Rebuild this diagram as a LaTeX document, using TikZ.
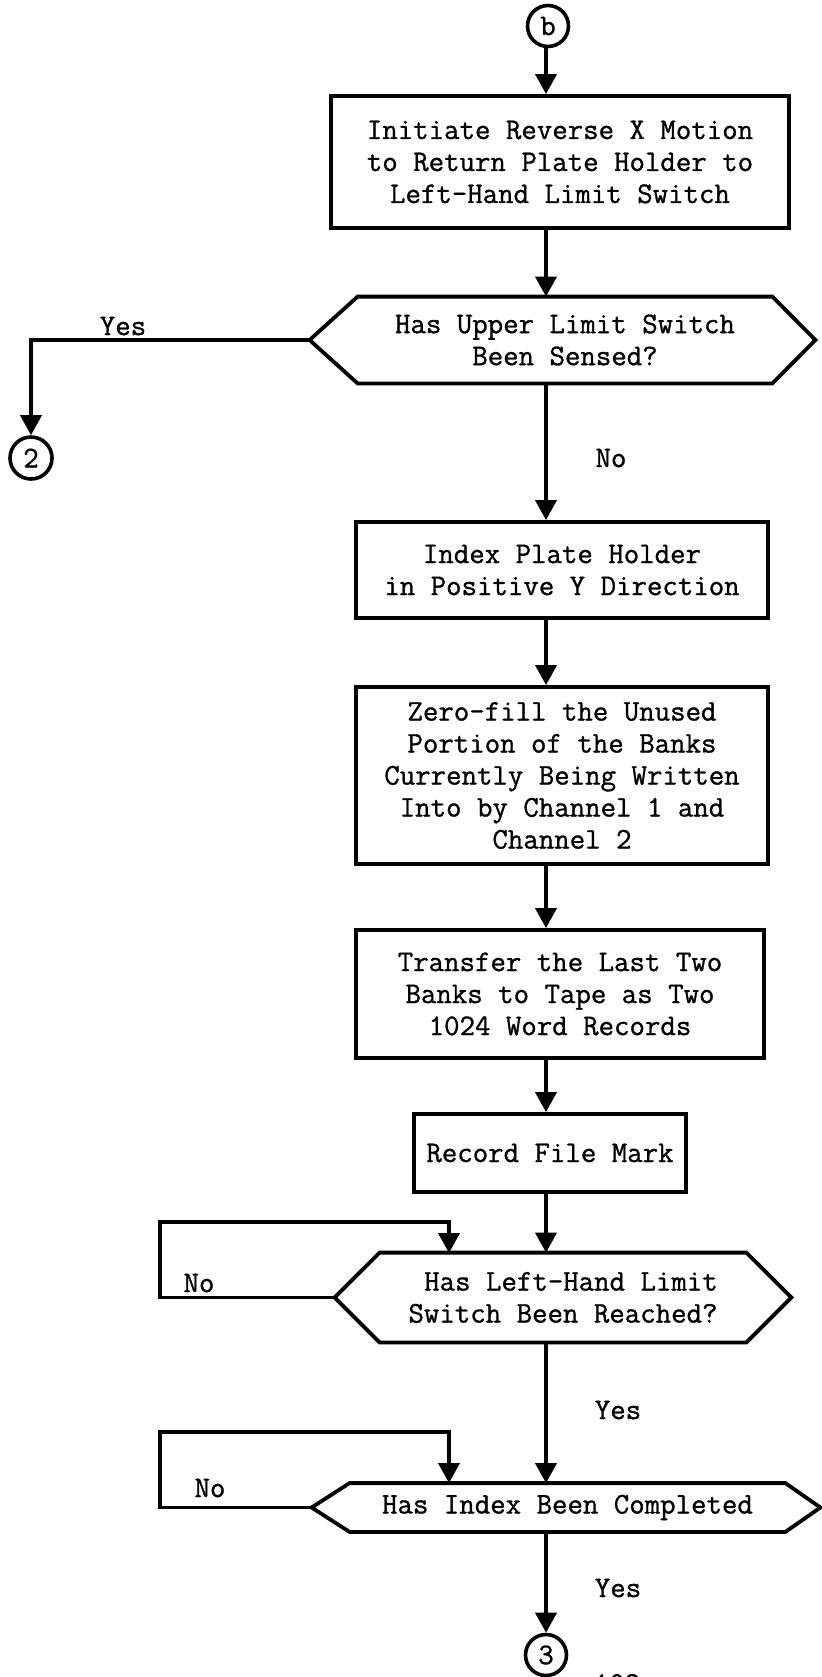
\documentclass[tikz,border=0pt]{standalone}
\usepackage{fontspec}
\setmonofont[FakeBold=1]{Latin Modern Mono}
\usetikzlibrary{arrows.meta}
\newcommand\tyfont{\fontsize{15}{16}\selectfont\ttfamily}
\begin{document}
\begin{tikzpicture}[x=0.5pt,y=-0.5pt,
  line/.style={line width=1.9pt},
  arrow/.style={line, -{Triangle[length=10pt,width=10.5pt]}},
  box/.style={draw, line width=1.9pt, align=center, inner sep=0pt, font=\tyfont},
  dec/.style={align=center, inner sep=0pt, font=\tyfont},
  hex/.style={line width=1.9pt, line join=miter},
  conn/.style={draw, circle, line width=1.8pt, inner sep=0pt, minimum size=20.5pt, font=\tyfont},
  lab/.style={font=\tyfont}]
\useasboundingbox (0,0) rectangle (821,1677);

% connectors (circles)
\node[conn] (cb) at (548,26) {b};
\node[conn, minimum size=21pt] (c2) at (31,458) {2};
\node[conn] (c3) at (546,1655) {3};

% process boxes
\node[box, minimum width=229pt, minimum height=66pt] (b1) at (560,162)
  {Initiate Reverse X Motion\\to Return Plate Holder to\\Left-Hand Limit Switch};
\node[box, minimum width=206pt, minimum height=48pt] (b2) at (562,570)
  {Index Plate Holder\\in Positive Y Direction};
\node[box, minimum width=206pt, minimum height=88.5pt] (b3) at (562,775.5)
  {Zero-fill the Unused\\Portion of the Banks\\Currently Being Written\\Into by Channel 1 and\\Channel 2};
\node[box, minimum width=204pt, minimum height=64pt] (b4) at (560,994)
  {Transfer the Last Two\\Banks to Tape as Two\\1024 Word Records};
\node[box, minimum width=136pt, minimum height=39pt] (b5) at (550,1153)
  {Record File Mark};

% decision 1
\node[dec, minimum width=207pt, minimum height=43pt] (d1) at (565,340)
  {Has Upper Limit Switch\\Been Sensed?};
\coordinate (d1L) at ([xshift=-24pt]d1.west);
\coordinate (d1R) at ([xshift=21.5pt]d1.east);
\draw[hex] (d1.north west) -- (d1.north east) -- (d1R) -- (d1.south east)
  -- (d1.south west) -- (d1L) -- cycle;

% decision 2
\node[dec, minimum width=183pt, minimum height=44.5pt] (d2) at (563,1297.5)
  {\hspace*{8pt}Has Left-Hand Limit\\Switch Been Reached?};
\coordinate (d2L) at ([xshift=-22.5pt]d2.west);
\coordinate (d2R) at ([xshift=22.5pt]d2.east);
\draw[hex] (d2.north west) -- (d2.north east) -- (d2R) -- (d2.south east)
  -- (d2.south west) -- (d2L) -- cycle;

% decision 3
\node[dec, minimum width=217.5pt, minimum height=24pt] (d3) at (567.5,1507.5)
  {Has Index Been Completed};
\coordinate (d3L) at ([xshift=-19pt]d3.west);
\coordinate (d3R) at ([xshift=17.5pt]d3.east);
\draw[hex] (d3.north west) -- (d3.north east) -- (d3R) -- (d3.south east)
  -- (d3.south west) -- (d3L) -- cycle;

% main flow
\coordinate (ax) at (546,0);
\draw[arrow] (cb.south -| ax) -- (b1.north -| ax);
\draw[arrow] (b1.south -| ax) -- (d1.north -| ax);
\draw[arrow] (d1.south -| ax) -- (b2.north -| ax);
\draw[arrow] (b2.south -| ax) -- (b3.north -| ax);
\draw[arrow] (b3.south -| ax) -- (b4.north -| ax);
\draw[arrow] (b4.south -| ax) -- (b5.north -| ax);
\draw[arrow] (b5.south -| ax) -- (d2.north -| ax);
\draw[arrow] (d2.south -| ax) -- (d3.north -| ax);
\draw[arrow] (d3.south -| ax) -- (c3);

% yes branch of decision 1
\draw[arrow] (d1L) -| (c2);
\node[lab] (ly1) at (123,326) {Yes};
\node[lab] (ln1) at (611,458) {No};

% loops
\coordinate (l2a) at (160,1222);
\coordinate (d2t) at (449,1253);
\draw[arrow] (d2L) -| (l2a) -| (d2t);
\node[lab] (ln2) at (199,1283) {No};
\node[lab] (ly2) at (618,1410) {Yes};

\coordinate (l3a) at (160,1432);
\coordinate (d3t) at (449,1483);
\draw[arrow] (d3L) -| (l3a) -| (d3t);
\node[lab] (ln3) at (210,1488) {No};
\node[lab] (ly3) at (618,1588) {Yes};

% page number (cut off)
\node[lab, anchor=north] (pg) at (617,1667) {102};
\end{tikzpicture}
\end{document}
